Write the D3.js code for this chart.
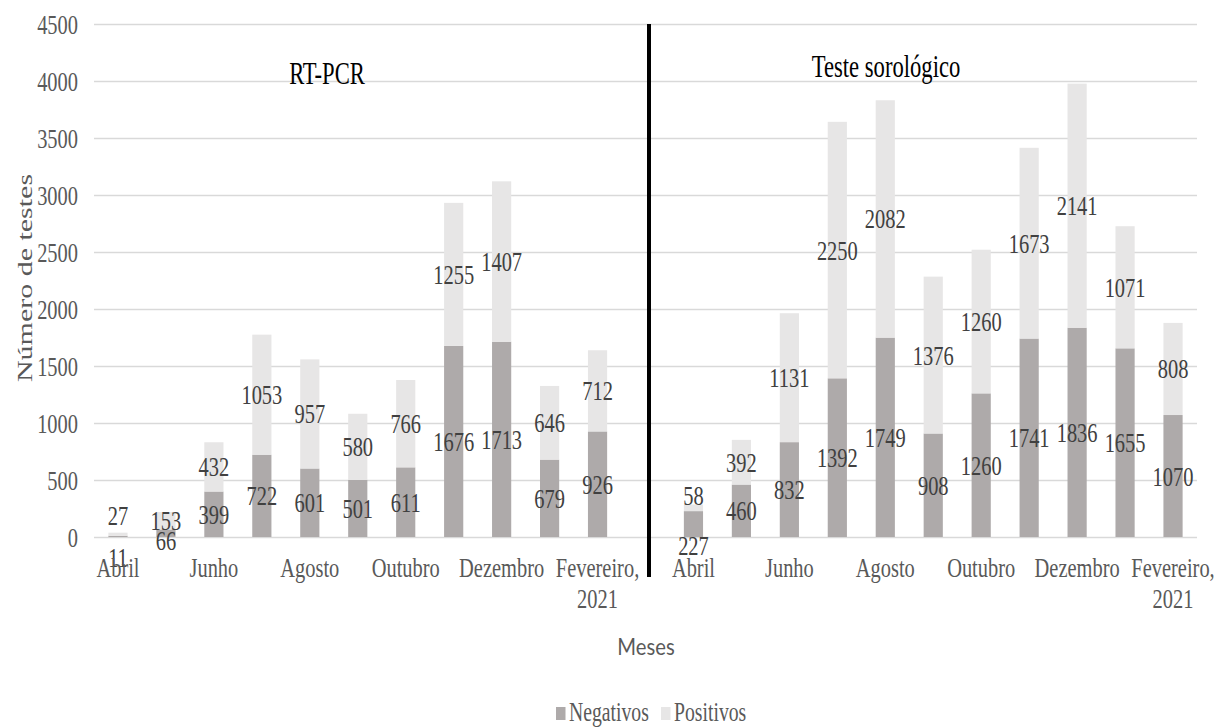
<!DOCTYPE html>
<html><head><meta charset="utf-8">
<script src="https://cdn.jsdelivr.net/npm/d3@7"></script>
<style>body{margin:0;background:#fff;} svg{display:block;}</style>
</head><body><svg id="c" width="1220" height="727"></svg>
<script>
// ---- data ----
const months = ["Abril","Maio","Junho","Julho","Agosto","Setembro","Outubro","Novembro","Dezembro","Janeiro","Fevereiro, 2021"];
const rtNegativos = [11,66,399,722,601,501,611,1676,1713,679,926];
const rtPositivos = [27,153,432,1053,957,580,766,1255,1407,646,712];
const soroNegativos = [227,460,832,1392,1749,908,1260,1741,1836,1655,1070];
const soroPositivos = [58,392,1131,2250,2082,1376,1260,1673,2141,1071,808];
const panels = ["RT-PCR","Teste sorológico"];
const seriesNames = ["Negativos","Positivos"];
const yTickValues = [0,500,1000,1500,2000,2500,3000,3500,4000,4500];
const yTitle = "Número de testes";
const xTitle = "Meses";

// ---- style ----
const SX = 0.73;
const SERIF = "'Liberation Serif','Times New Roman',serif";
const colors = {Negativos:"#AEAAAA", Positivos:"#E7E6E6"};
const labelNudge = {"RT-PCR|Abril|Negativos":21,"RT-PCR|Abril|Positivos":-19,"RT-PCR|Maio|Negativos":7,
  "Teste sorológico|Abril|Negativos":21,"Teste sorológico|Abril|Positivos":-12};

const rows = [];
panels.forEach((p,pi)=>{
  const neg = pi===0 ? rtNegativos : soroNegativos;
  const pos = pi===0 ? rtPositivos : soroPositivos;
  months.forEach((m,i)=>rows.push({key:p+"|"+m, panel:p, month:m, idx:i, Negativos:neg[i], Positivos:pos[i]}));
  if(pi===0) rows.push({key:"gap", gap:true, Negativos:0, Positivos:0});
});

const svg = d3.select("#c");
svg.append("rect").attr("width",1220).attr("height",727).attr("fill","#fff");

const x = d3.scaleBand().domain(rows.map(r=>r.key)).range([94,1197]).paddingInner(0.6).paddingOuter(0.3);
const y = d3.scaleLinear().domain([0,4500]).range([537,24]);

// gridlines + y tick labels
const yAxis = svg.append("g").attr("transform","translate(94,0)")
  .call(d3.axisLeft(y).tickValues(yTickValues).tickSize(-(1197-94)).tickFormat(d3.format("d")));
yAxis.select(".domain").remove();
yAxis.selectAll(".tick line").attr("stroke","#d9d9d9").attr("stroke-width",1.4);
yAxis.selectAll(".tick text").attr("x",null).attr("dy",null)
  .attr("transform","translate(-16,9.5) scale("+SX+",1)")
  .attr("text-anchor","end").attr("fill","#595959")
  .style("font-family",SERIF).style("font-size","28px");

// bars
const stack = d3.stack().keys(seriesNames)(rows.filter(r=>!r.gap));
const layers = svg.append("g").selectAll("g").data(stack).join("g").attr("fill",d=>colors[d.key]);
layers.selectAll("rect").data(d=>d).join("rect")
  .attr("x",d=>x(d.data.key)).attr("width",x.bandwidth())
  .attr("y",d=>y(d[1])).attr("height",d=>y(d[0])-y(d[1]));

// data labels
const lbl = svg.append("g");
stack.forEach(layer=>{
  layer.forEach(d=>{
    const k = d.data.key+"|"+layer.key;
    const cy = (y(d[0])+y(d[1]))/2 + (labelNudge[k]||0);
    lbl.append("text")
      .attr("transform","translate("+(x(d.data.key)+x.bandwidth()/2)+","+(cy+9.5)+") scale("+SX+",1)")
      .attr("text-anchor","middle").attr("fill","#404040")
      .style("font-family",SERIF).style("font-size","28px")
      .text(d.data[layer.key]);
  });
});

// x category labels (every other month)
const xl = svg.append("g");
rows.filter(r=>!r.gap && r.idx%2===0).forEach(r=>{
  const cx = x(r.key)+x.bandwidth()/2;
  const parts = r.month.split(", ");
  parts.forEach((t,i)=>{
    xl.append("text")
      .attr("transform","translate("+cx+","+(577+i*31)+") scale("+SX+",1)")
      .attr("text-anchor","middle").attr("fill","#595959")
      .style("font-family",SERIF).style("font-size","28px")
      .text(i<parts.length-1 ? t+"," : t);
  });
});

// divider
svg.append("line").attr("x1",649).attr("x2",649).attr("y1",y(4500)).attr("y2",577)
  .attr("stroke","#000").attr("stroke-width",4);

// panel titles
const titlePos = [[327,84],[886,77]];
panels.forEach((p,i)=>{
  svg.append("text")
    .attr("transform","translate("+titlePos[i][0]+","+titlePos[i][1]+") scale("+SX+",1)")
    .attr("text-anchor","middle").attr("fill","#000")
    .style("font-family",SERIF).style("font-size","31px").text(p);
});

// axis titles
svg.append("text")
  .attr("transform","translate(32,278) scale("+SX+",1) rotate(-90)")
  .attr("text-anchor","middle").attr("fill","#595959")
  .style("font-family",SERIF).style("font-size","30px").text(yTitle);
svg.append("text")
  .attr("transform","translate(646,655) scale(0.88,1)")
  .attr("text-anchor","middle").attr("fill","#595959")
  .style("font-family","Lato,'Open Sans',sans-serif").style("font-size","23px").text(xTitle);

// legend
const legX = [556,661];
seriesNames.forEach((s,i)=>{
  svg.append("rect").attr("x",legX[i]).attr("y",707).attr("width",9.5).attr("height",13).attr("fill",colors[s]);
  svg.append("text")
    .attr("transform","translate("+(legX[i]+13)+",721) scale("+SX+",1)")
    .attr("fill","#595959")
    .style("font-family",SERIF).style("font-size","27px").text(s);
});
</script></body></html>
